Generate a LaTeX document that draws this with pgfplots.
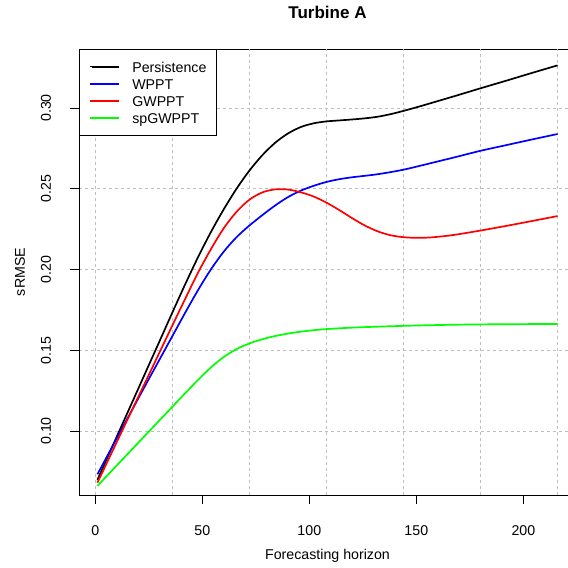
\documentclass[border=0pt]{standalone}
\usepackage{fontspec}
\setmainfont{Liberation Sans}
\usepackage{pgfplots}
\pgfplotsset{compat=1.18}
\begin{document}
\fontsize{14.2bp}{17bp}\selectfont
\begin{tikzpicture}
\begin{axis}[
  at={(79bp,73bp)}, anchor=south west,
  scale only axis, width=497bp, height=446bp,
  xmin=-7.6, xmax=224.6, ymin=0.06037, ymax=0.33653,
  xtick={0,50,100,150,200},
  ytick={0.10,0.15,0.20,0.25,0.30},
  yticklabels={0.10,0.15,0.20,0.25,0.30},
  /pgf/number format/assume math mode=true,
  tick align=outside, major tick length=8.5bp,
  xtick pos=bottom, ytick pos=left,
  tick style={black, line width=0.9bp},
  axis line style={line width=0.9bp},
  ymajorgrids,
  major grid style={dash pattern=on 3bp off 3bp, black!25, line width=0.9bp},
  extra x ticks={0,36,72,108,144,180,216},
  extra x tick labels={},
  extra x tick style={xmajorgrids=true, major tick length=0pt},
  xticklabel style={anchor=base, inner sep=0pt, yshift=-31.7bp},
  yticklabel style={xshift=-19.7bp, rotate=90, anchor=base, inner sep=0pt},
  xlabel={Forecasting horizon}, ylabel={sRMSE},
  every axis x label/.style={at={(axis description cs:0.5,0)}, anchor=base, inner sep=0pt, yshift=-64bp},
  every axis y label/.style={at={(axis description cs:0,0.5)}, xshift=-54bp, rotate=90, anchor=base, inner sep=0pt},
  title={Turbine A},
  every axis title/.style={at={(axis description cs:0.5,1)}, anchor=base, yshift=30bp, inner sep=0pt, font=\bfseries\fontsize{17bp}{20bp}\selectfont},
  legend style={at={(axis description cs:0,1)}, anchor=north west, draw=black, line width=0.9bp, fill=white,
    inner xsep=10bp, inner ysep=9.3bp, row sep=1.4bp, column sep=13bp,
    nodes={inner sep=0pt, text height=13.5bp, text depth=2.3bp}},
  legend cell align=left,
  legend image code/.code={\path (0bp,0bp) -- (2bp,0bp); \fill[#1, draw=none] (2bp,-1bp) rectangle (29bp,1bp);},
]
\addplot[black, line width=1.7bp, smooth] table {
1 0.0697
6 0.0845
12 0.1023
18 0.1200
24 0.1378
30 0.1555
36 0.1733
42 0.1908
48 0.2076
54 0.2231
60 0.2372
66 0.2500
72 0.2612
78 0.2707
84 0.2784
90 0.2842
96 0.2882
102 0.2905
108 0.2917
114 0.2923
120 0.2929
126 0.2936
132 0.2946
138 0.2962
144 0.2982
150 0.3004
156 0.3027
168 0.3074
180 0.3122
192 0.3169
204 0.3217
216 0.3264
};
\addlegendentry{Persistence}
\addplot[blue, line width=1.7bp, smooth] table {
1 0.0732
6 0.0855
12 0.1003
18 0.1150
24 0.1297
30 0.1442
36 0.1587
42 0.1732
48 0.1872
54 0.2000
60 0.2110
66 0.2200
72 0.2272
78 0.2336
84 0.2396
90 0.2448
96 0.2488
102 0.2518
108 0.2542
114 0.2559
120 0.2571
132 0.2590
144 0.2618
156 0.2656
168 0.2695
180 0.2735
192 0.2770
204 0.2805
216 0.2839
};
\addlegendentry{WPPT}
\addplot[red, line width=1.7bp, smooth] table {
1 0.0680
6 0.0819
12 0.0986
18 0.1153
24 0.1319
30 0.1486
36 0.1653
42 0.1818
48 0.1980
54 0.2125
60 0.2255
66 0.2357
72 0.2432
78 0.2477
84 0.2496
90 0.2495
96 0.2478
102 0.2452
108 0.2414
114 0.2368
120 0.2318
126 0.2272
132 0.2236
138 0.2212
144 0.2200
150 0.2196
156 0.2198
162 0.2205
168 0.2215
180 0.2241
192 0.2270
204 0.2300
216 0.2331
};
\addlegendentry{GWPPT}
\addplot[green, line width=1.7bp, smooth] table {
1 0.0660
6 0.0730
12 0.0814
18 0.0898
24 0.0982
30 0.1066
36 0.1150
42 0.1234
48 0.1316
54 0.1393
60 0.1458
66 0.1507
72 0.1542
78 0.1568
84 0.1588
90 0.1603
96 0.1615
102 0.1624
108 0.1631
120 0.1640
132 0.1646
144 0.1651
156 0.1655
168 0.1658
180 0.1660
192 0.1661
204 0.1662
216 0.1662
};
\addlegendentry{spGWPPT}
\end{axis}
\pgfresetboundingbox
\useasboundingbox (0,0) rectangle (568bp,568bp);
\end{tikzpicture}
\end{document}
